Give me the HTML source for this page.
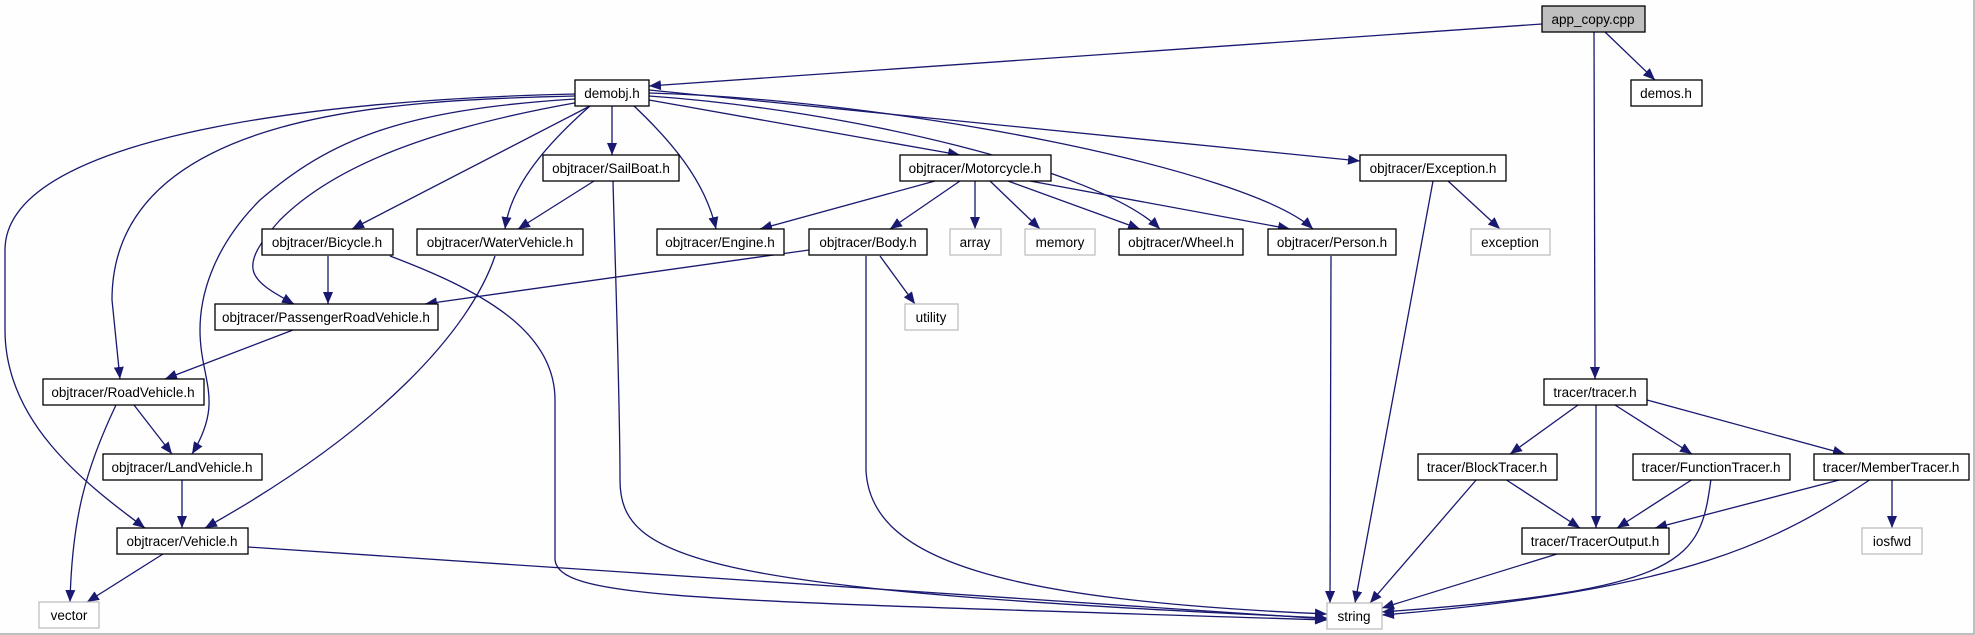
<!DOCTYPE html>
<html><head><meta charset="utf-8"><style>
html,body{margin:0;padding:0;background:#fff}
svg{display:block}
text{font-family:"Liberation Sans",sans-serif;font-size:13.5px;fill:#000}
.b{fill:#fff;stroke:#000;stroke-width:1.3}
.g{fill:#fff;stroke:#bfbfbf;stroke-width:1.3}
.e{fill:none;stroke:#191970;stroke-width:1.3}
</style></head><body>
<svg width="1975" height="635" viewBox="0 0 1975 635" xmlns="http://www.w3.org/2000/svg">
<defs><marker id="a" viewBox="0 0 12 10" refX="12" refY="5" markerWidth="12" markerHeight="10" markerUnits="userSpaceOnUse" orient="auto"><path d="M0,0 L12,5 L0,10 z" fill="#191970"/></marker></defs>
<rect x="0" y="0" width="1975" height="635" fill="#fefefe"/>
<path d="M1974,0 L1974,634 L0,634" fill="none" stroke="#aaa" stroke-width="1.5"/>
<g class="e" marker-end="url(#a)">
<path d="M1542,24 L649,86"/>
<path d="M1605,32 L1655,80"/>
<path d="M1594,32 L1595,379"/>
<path d="M575,94 C300,100 5,140 5,250 L5,330 C5,420 80,480 145,528"/>
<path d="M575,96 C400,100 112,110 112,300 L120,379"/>
<path d="M575,99 C400,110 330,140 260,200 C210,250 200,300 200,330 C200,380 225,400 192,454"/>
<path d="M580,102 C420,130 330,170 280,220 C235,270 250,280 294,304"/>
<path d="M590,106 L352,229"/>
<path d="M590,106 C540,150 510,190 505,229"/>
<path d="M612,106 L612,155"/>
<path d="M634,106 C670,140 705,180 716,229"/>
<path d="M649,100 L960,155"/>
<path d="M649,96 C850,110 1100,170 1160,229"/>
<path d="M649,93 C900,100 1250,170 1313,229"/>
<path d="M649,90 L1360,161"/>
<path d="M594,181 L518,229"/>
<path d="M613,181 C615,260 620,400 620,480 C620,560 700,590 1327,618"/>
<path d="M328,256 L328,304"/>
<path d="M390,256 C480,290 555,330 555,400 L555,560 C560,600 700,600 1327,620"/>
<path d="M495,256 C470,330 380,430 205,528"/>
<path d="M809,250 L425,304"/>
<path d="M880,256 L915,304"/>
<path d="M866,256 C866,300 866,430 866,470 C870,560 1000,600 1327,614"/>
<path d="M935,181 L760,229"/>
<path d="M960,181 L890,229"/>
<path d="M975,181 L975,229"/>
<path d="M990,181 L1040,229"/>
<path d="M1008,181 L1140,229"/>
<path d="M1030,181 L1290,229"/>
<path d="M1433,181 L1355,603"/>
<path d="M1448,181 L1500,229"/>
<path d="M1331,256 L1330,603"/>
<path d="M293,330 L165,379"/>
<path d="M134,405 L172,454"/>
<path d="M116,405 C85,470 72,520 70,602"/>
<path d="M182,479 L182,528"/>
<path d="M163,554 L87,602"/>
<path d="M248,547 L1327,619"/>
<path d="M1578,405 L1510,454"/>
<path d="M1596,405 L1596,528"/>
<path d="M1615,405 L1692,454"/>
<path d="M1647,400 L1845,454"/>
<path d="M1505,479 L1580,528"/>
<path d="M1477,479 L1370,603"/>
<path d="M1693,479 L1617,528"/>
<path d="M1711,479 C1700,560 1690,590 1382,612"/>
<path d="M1843,479 L1655,528"/>
<path d="M1892,479 L1892,528"/>
<path d="M1871,479 C1780,540 1690,590 1382,615"/>
<path d="M1557,554 L1382,608"/>
</g>
<rect x="1542" y="6" width="103" height="26" fill="#bfbfbf" stroke="#000" stroke-width="1.3"/>
<text x="1593" y="24" text-anchor="middle">app_copy.cpp</text>
<g text-anchor="middle">
<rect class="b" x="1631" y="80" width="71" height="26"/><text x="1666" y="98">demos.h</text>
<rect class="b" x="575" y="80" width="74" height="26"/><text x="612" y="98">demobj.h</text>
<rect class="b" x="543" y="155" width="136" height="26"/><text x="611" y="173">objtracer/SailBoat.h</text>
<rect class="b" x="900" y="155" width="151" height="26"/><text x="975" y="173">objtracer/Motorcycle.h</text>
<rect class="b" x="1360" y="155" width="146" height="26"/><text x="1433" y="173">objtracer/Exception.h</text>
<rect class="b" x="262" y="229" width="131" height="26"/><text x="327" y="247">objtracer/Bicycle.h</text>
<rect class="b" x="417" y="229" width="166" height="26"/><text x="500" y="247">objtracer/WaterVehicle.h</text>
<rect class="b" x="657" y="229" width="127" height="26"/><text x="720" y="247">objtracer/Engine.h</text>
<rect class="b" x="809" y="229" width="118" height="26"/><text x="868" y="247">objtracer/Body.h</text>
<rect class="g" x="950" y="229" width="51" height="26"/><text x="975" y="247">array</text>
<rect class="g" x="1025" y="229" width="70" height="26"/><text x="1060" y="247">memory</text>
<rect class="b" x="1119" y="229" width="124" height="26"/><text x="1181" y="247">objtracer/Wheel.h</text>
<rect class="b" x="1268" y="229" width="128" height="26"/><text x="1332" y="247">objtracer/Person.h</text>
<rect class="g" x="1471" y="229" width="79" height="26"/><text x="1510" y="247">exception</text>
<rect class="b" x="215" y="304" width="223" height="26"/><text x="326" y="322">objtracer/PassengerRoadVehicle.h</text>
<rect class="g" x="905" y="304" width="53" height="26"/><text x="931" y="322">utility</text>
<rect class="b" x="43" y="379" width="161" height="26"/><text x="123" y="397">objtracer/RoadVehicle.h</text>
<rect class="b" x="1544" y="379" width="103" height="26"/><text x="1595" y="397">tracer/tracer.h</text>
<rect class="b" x="103" y="454" width="159" height="26"/><text x="182" y="472">objtracer/LandVehicle.h</text>
<rect class="b" x="1418" y="454" width="139" height="26"/><text x="1487" y="472">tracer/BlockTracer.h</text>
<rect class="b" x="1633" y="454" width="157" height="26"/><text x="1711" y="472">tracer/FunctionTracer.h</text>
<rect class="b" x="1814" y="454" width="155" height="26"/><text x="1891" y="472">tracer/MemberTracer.h</text>
<rect class="b" x="117" y="528" width="131" height="26"/><text x="182" y="546">objtracer/Vehicle.h</text>
<rect class="b" x="1522" y="528" width="147" height="26"/><text x="1595" y="546">tracer/TracerOutput.h</text>
<rect class="g" x="1862" y="528" width="60" height="26"/><text x="1892" y="546">iosfwd</text>
<rect class="g" x="39" y="602" width="60" height="26"/><text x="69" y="620">vector</text>
<rect class="g" x="1327" y="603" width="55" height="26"/><text x="1354" y="621">string</text>
</g>
</svg>
</body></html>
